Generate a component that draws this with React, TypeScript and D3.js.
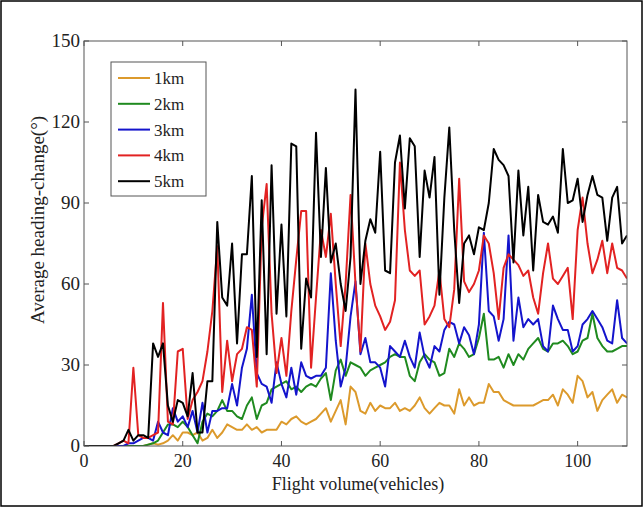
import React from "react";
import * as d3 from "d3";

const W = 643;
const H = 507;

const xTicks = [0, 20, 40, 60, 80, 100];
const yTicks = [0, 30, 60, 90, 120, 150];
const seriesNames = ["1km", "2km", "3km", "4km", "5km"];
const seriesColors = ["#DC9A2C", "#1F8A1F", "#1414CC", "#E22222", "#000000"];

// index = flight volume (0..110)
const km1 = [
  0, 0, 0, 0, 0, 0, 0, 0, 0, 0, 0, 0, 0, 0.5, 1, 0.5, 1, 2, 4, 2,
  5, 5, 4, 5, 2, 3, 6, 3, 5, 8, 7, 6, 6, 8, 6, 7, 5, 6, 6, 6,
  9, 8, 10, 11, 9, 8, 9, 10, 12, 14, 9, 13, 17, 8, 22, 20, 13, 12, 16, 13,
  15, 14, 14, 16, 13, 14, 13, 15, 18, 14, 12, 14, 16, 15, 15, 12, 21, 15, 18, 15,
  16, 16, 23, 20, 20, 17, 16, 15, 15, 15, 15, 15, 16, 17, 17, 19, 15, 21, 19, 16,
  26, 24, 18, 20, 13, 17, 19, 21, 16, 19, 18,
];
const km2 = [
  0, 0, 0, 0, 0, 0, 0, 0, 0, 0, 0, 0, 0, 0.5, 1, 2, 5, 8, 8, 7,
  9, 7, 4, 1, 9, 12, 11, 13, 17, 13, 13, 11, 10, 15, 18, 10, 15, 16, 21, 22,
  23, 24, 21, 22, 20, 22, 23, 22, 25, 27, 17, 28, 32, 26, 31, 30, 29, 26, 28, 29,
  30, 31, 33, 34, 33, 33, 26, 24, 31, 34, 32, 31, 26, 27, 36, 33, 38, 36, 33, 34,
  40, 49, 32, 32, 33, 29, 34, 30, 34, 32, 36, 38, 40, 36, 35, 38, 38, 39, 37, 34,
  35, 39, 40, 49, 40, 37, 35, 35, 36, 37, 37,
];
const km3 = [
  0, 0, 0, 0, 0, 0, 0, 0, 0, 1, 1, 2, 3, 3, 2, 9, 5, 4, 14, 9,
  11, 7, 13, 5, 16, 5, 13, 13, 14, 14, 23, 15, 29, 36, 56, 27, 23, 22, 16, 31,
  23, 18, 29, 19, 31, 26, 25, 26, 26, 29, 64, 39, 22, 29, 48, 61, 34, 40, 31, 31,
  29, 22, 37, 35, 33, 39, 33, 29, 42, 33, 29, 37, 35, 43, 46, 45, 38, 44, 41, 34,
  45, 79, 50, 48, 39, 47, 78, 39, 55, 44, 47, 45, 47, 37, 35, 52, 47, 43, 43, 35,
  37, 45, 47, 50, 47, 44, 39, 38, 54, 40, 38,
];
const km4 = [
  0, 0, 0, 0, 0, 0, 0, 1, 2, 1, 29, 4, 3, 3, 4, 5, 53, 9, 8, 35,
  36, 10, 17, 20, 24, 35, 50, 74, 20, 39, 24, 34, 36, 44, 43, 22, 81, 97, 49, 27,
  40, 26, 50, 69, 87, 87, 29, 55, 80, 70, 86, 60, 37, 60, 93, 60, 35, 75, 60, 52,
  48, 43, 46, 54, 105, 80, 65, 63, 65, 45, 48, 52, 65, 47, 44, 58, 99, 61, 57, 60,
  65, 78, 75, 64, 47, 66, 71, 69, 67, 63, 65, 55, 49, 64, 75, 62, 60, 63, 66, 47,
  80, 92, 75, 64, 69, 76, 64, 75, 66, 65, 62,
];
const km5 = [
  0, 0, 0, 0, 0, 0, 0, 1, 2, 6, 2, 4, 4, 3, 38, 33, 38, 15, 9, 17,
  16, 11, 27, 5, 5, 24, 24, 83, 55, 52, 75, 38, 71, 71, 100, 33, 91, 34, 104, 49,
  82, 48, 112, 111, 36, 62, 55, 116, 70, 103, 68, 75, 60, 50, 70, 132, 60, 76, 84, 79,
  109, 65, 64, 105, 115, 88, 114, 111, 70, 102, 92, 107, 56, 92, 118, 80, 53, 75, 78, 71,
  81, 80, 90, 110, 106, 104, 100, 68, 102, 78, 96, 65, 93, 83, 82, 85, 79, 110, 90, 91,
  99, 83, 93, 100, 93, 92, 76, 92, 96, 75, 78,
];
const allSeries = [km1, km2, km3, km4, km5];

const left = 84;
const right = 627;
const top = 41;
const bottom = 446;

export default function App() {
  const x = d3.scaleLinear().domain([0, 110]).range([left, right]);
  const y = d3.scaleLinear().domain([0, 150]).range([bottom, top]);
  const line = d3
    .line<number>()
    .x((_, i) => x(i))
    .y((d) => y(d));

  const font = "'Liberation Serif', 'Times New Roman', serif";
  const tickLen = 5;

  return (
    <div style={{ position: "fixed", left: 0, top: 0 }}>
      <svg width={W} height={H} style={{ display: "block", background: "#fff" }}>
        <rect x={1} y={1} width={W - 2} height={H - 2} fill="#fff" stroke="#000" strokeWidth={1.5} />
        <defs>
          <clipPath id="plotclip">
            <rect x={left} y={top} width={right - left} height={bottom - top} />
          </clipPath>
        </defs>
        <g clipPath="url(#plotclip)">
          {allSeries.map((s, k) => (
            <path
              key={k}
              d={line(s) || ""}
              fill="none"
              stroke={seriesColors[k]}
              strokeWidth={2}
              strokeLinejoin="round"
            />
          ))}
        </g>
        <rect x={left} y={top} width={right - left} height={bottom - top} fill="none" stroke="#555" strokeWidth={1} />
        {xTicks.map((t) => (
          <g key={"x" + t}>
            <line x1={x(t)} x2={x(t)} y1={bottom} y2={bottom - tickLen} stroke="#555" />
            <line x1={x(t)} x2={x(t)} y1={top} y2={top + tickLen} stroke="#555" />
            <text x={x(t)} y={bottom + 21} textAnchor="middle" fontFamily={font} fontSize={18} fill="#222">
              {t}
            </text>
          </g>
        ))}
        {yTicks.map((t) => (
          <g key={"y" + t}>
            <line x1={left} x2={left + tickLen} y1={y(t)} y2={y(t)} stroke="#555" />
            <line x1={right} x2={right - tickLen} y1={y(t)} y2={y(t)} stroke="#555" />
            <text x={left - 4} y={y(t) + 6} textAnchor="end" fontFamily={font} fontSize={19} fill="#222">
              {t}
            </text>
          </g>
        ))}
        <text x={358} y={490} textAnchor="middle" fontFamily={font} fontSize={18} fill="#222">
          Flight volume(vehicles)
        </text>
        <text
          transform={`translate(44, 220) rotate(-90)`}
          textAnchor="middle"
          fontFamily={font}
          fontSize={19}
          fill="#222"
        >
          Average heading-change(°)
        </text>
        <g>
          <rect x={111} y={62} width={95} height={134} fill="#fff" stroke="#555" strokeWidth={1} />
          {seriesNames.map((n, k) => {
            const cy = 78 + k * 25.8;
            return (
              <g key={n}>
                <line x1={118} x2={150} y1={cy} y2={cy} stroke={seriesColors[k]} strokeWidth={2} />
                <text x={154} y={cy + 6} fontFamily={font} fontSize={17} fill="#222">
                  {n}
                </text>
              </g>
            );
          })}
        </g>
      </svg>
    </div>
  );
}
